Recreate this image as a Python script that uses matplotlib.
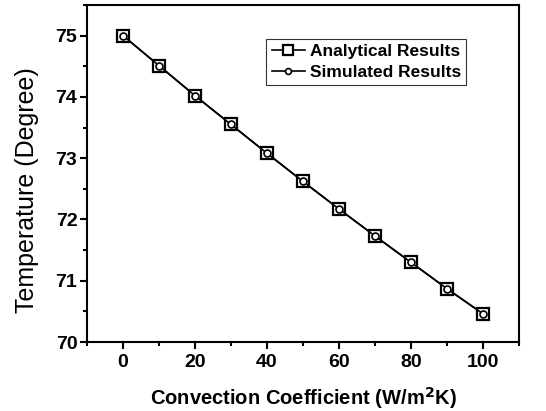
import matplotlib
matplotlib.use('Agg')
import matplotlib.pyplot as plt
from matplotlib.ticker import MultipleLocator

# convection coefficient (W/m2K) vs temperature
h_values = [0, 10, 20, 30, 40, 50, 60, 70, 80, 90, 100]
temp_analytical = [75.00, 74.51, 74.02, 73.55, 73.08, 72.62, 72.17, 71.73, 71.30, 70.87, 70.46]
temp_simulated = [75.00, 74.51, 74.02, 73.55, 73.08, 72.62, 72.17, 71.73, 71.30, 70.87, 70.46]

plt.rcParams['font.family'] = ['Liberation Sans', 'DejaVu Sans']

fig = plt.figure(figsize=(5.46, 4.11), dpi=100)
ax = fig.add_axes([87/546, 1 - 342/411, (519 - 87)/546, (342 - 5)/411])

ax.plot(h_values, temp_analytical, color='black', lw=1.2, marker='s', ms=9,
        mfc='white', mec='black', mew=1.6, label='Analytical Results')
ax.plot(h_values, temp_simulated, color='black', lw=1.2, marker='o', ms=5,
        mfc='white', mec='black', mew=1.2, label='Simulated Results')

ax.set_xlim(-10, 110)
ax.set_ylim(70, 75.5)
ax.xaxis.set_major_locator(MultipleLocator(20))
ax.xaxis.set_minor_locator(MultipleLocator(10))
ax.yaxis.set_major_locator(MultipleLocator(1))
ax.yaxis.set_minor_locator(MultipleLocator(0.5))
ax.tick_params(which='both', direction='out', width=1.5, top=False, right=False)
ax.tick_params(which='major', length=5, labelsize=14)
ax.tick_params(which='minor', length=3)
ax.tick_params(axis='y', pad=2)
for lab in ax.get_xticklabels() + ax.get_yticklabels():
    lab.set_fontweight('bold')
for sp in ax.spines.values():
    sp.set_linewidth(1.5)

ax.set_xlabel('Convection Coefficient (W/m$\\mathbf{^2}$K)', fontsize=14.5,
              fontweight='bold', labelpad=10)
ax.set_ylabel('Temperature (Degree)', fontsize=18)
ax.yaxis.set_label_coords(-0.11, 0.45)

leg = ax.legend(loc='upper left', bbox_to_anchor=(0.395, 0.925),
                prop={'weight': 'bold', 'size': 12.5}, frameon=True, fancybox=False,
                handlelength=1.9, handletextpad=0.3, borderpad=0.3, labelspacing=0.3,
                markerscale=0.85)
leg.get_frame().set_edgecolor('black')
leg.get_frame().set_linewidth(0.8)

fig.savefig('out.png', dpi=100)
